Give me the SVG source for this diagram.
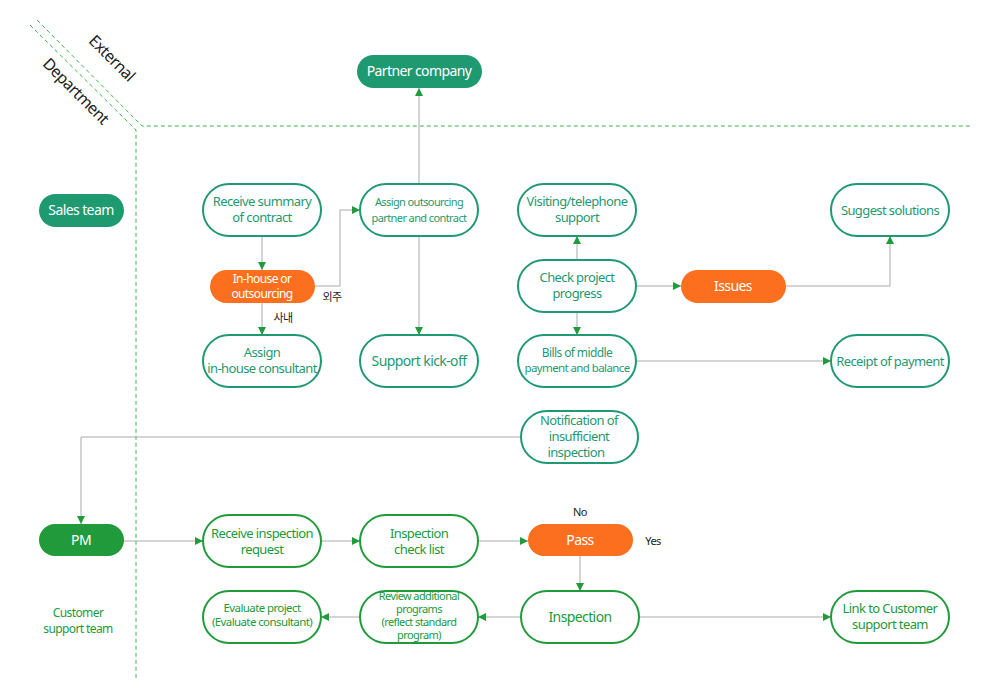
<svg xmlns="http://www.w3.org/2000/svg" width="1000" height="700" viewBox="0 0 1000 700">
<style>
text{font-family:"Noto Sans","Noto Sans CJK KR",sans-serif;text-anchor:middle;letter-spacing:-0.6px}
.t{fill:#1f9970;font-size:13px}
.g{fill:#219a3b;font-size:13px}
.w{fill:#fff;font-size:14px}
.k{fill:#222;font-size:11px}
.ot{fill:#fff;stroke:#1f9970;stroke-width:2}
.og{fill:#fff;stroke:#219a3b;stroke-width:2}
.ft{fill:#1f9970}.fg{fill:#219a3b}.fo{fill:#fb6f1e}
.c path{fill:none;stroke:#aaa;stroke-width:1;marker-end:url(#a)}
.d{fill:none;stroke:#3bb54a;stroke-width:1;stroke-dasharray:4 3}
</style>
<defs><marker id="a" viewBox="0 0 10 10" refX="10" refY="5" markerWidth="8" markerHeight="8" markerUnits="userSpaceOnUse" orient="auto"><path d="M0,0L10,5L0,10z" fill="#219a3b"/></marker></defs>
<rect width="1000" height="700" fill="#fff"/>
<path class="d" d="M37,20L142,126H970M30,25L136,130V680"/>
<text x="108" y="62" transform="rotate(45 108 62)" style="font-size:16px;fill:#222">External</text>
<text x="72" y="95" transform="rotate(45 72 95)" style="font-size:16px;fill:#222">Department</text>
<g class="c">
<path d="M262,236V270"/><path d="M315,286H340V210H360"/><path d="M262,303V335"/>
<path d="M419,184V88"/><path d="M419,236V335"/>
<path d="M577,260V236"/><path d="M577,312V335"/><path d="M636,286H681"/>
<path d="M786,286H890V236"/><path d="M636,361H831"/>
<path d="M521,437H81V524"/><path d="M124,541H203"/><path d="M321,541H360"/><path d="M478,541H528"/>
<path d="M580,556V591"/><path d="M521,617H478"/><path d="M360,617H321"/><path d="M638,617H831"/>
</g>
<text class="k" x="332" y="301">외주</text><text class="k" x="283" y="322">사내</text>
<text class="k" x="580" y="516">No</text><text class="k" x="653" y="545">Yes</text>
<g id="sales"><rect class="ft" x="39" y="194" width="85" height="33" rx="16.5"/><text class="w" x="81" y="215">Sales team</text></g>
<g id="partner"><rect class="ft" x="357" y="55" width="125" height="33" rx="16.5"/><text class="w" x="419" y="76">Partner company</text></g>
<g id="recv"><rect class="ot" x="203" y="184" width="118" height="52" rx="26"/><text class="t" x="262" y="206">Receive summary</text><text class="t" x="262" y="222">of contract</text></g>
<g id="assignout"><rect class="ot" x="360" y="184" width="118" height="52" rx="26"/><text class="t" x="419" y="206" style="font-size:11px">Assign outsourcing</text><text class="t" x="419" y="222" style="font-size:11px">partner and contract</text></g>
<g id="visit"><rect class="ot" x="518" y="184" width="118" height="52" rx="26"/><text class="t" x="577" y="206">Visiting/telephone</text><text class="t" x="577" y="222">support</text></g>
<g id="suggest"><rect class="ot" x="831" y="184" width="118" height="52" rx="26"/><text class="t" x="890" y="215">Suggest solutions</text></g>
<g id="inhouse"><rect class="fo" x="210" y="270" width="105" height="33" rx="16.5"/><text class="w" x="262" y="283" style="font-size:12px">In-house or</text><text class="w" x="262" y="298" style="font-size:12px">outsourcing</text></g>
<g id="check"><rect class="ot" x="518" y="260" width="118" height="52" rx="26"/><text class="t" x="577" y="282">Check project</text><text class="t" x="577" y="298">progress</text></g>
<g id="issues"><rect class="fo" x="681" y="270" width="105" height="33" rx="16.5"/><text class="w" x="733" y="291">Issues</text></g>
<g id="assignin"><rect class="ot" x="203" y="335" width="118" height="52" rx="26"/><text class="t" x="262" y="357">Assign</text><text class="t" x="262" y="373">in-house consultant</text></g>
<g id="kickoff"><rect class="ot" x="360" y="335" width="118" height="52" rx="26"/><text class="t" x="419" y="366" style="font-size:14px">Support kick-off</text></g>
<g id="bills"><rect class="ot" x="518" y="335" width="118" height="52" rx="26"/><text class="t" x="577" y="357" style="font-size:12px">Bills of middle</text><text class="t" x="577" y="372" style="font-size:11.5px">payment and balance</text></g>
<g id="receipt"><rect class="ot" x="831" y="335" width="118" height="52" rx="26"/><text class="t" x="890" y="366">Receipt of payment</text></g>
<g id="notif"><rect class="ot" x="521" y="411" width="117" height="52" rx="26"/><text class="t" x="579" y="425">Notification of</text><text class="t" x="579" y="441">insufficient</text><text class="t" x="576" y="457">inspection</text></g>
<g id="pm"><rect class="fg" x="39" y="524" width="85" height="32" rx="16"/><text class="w" x="81" y="545">PM</text></g>
<text class="g" x="78" y="617" style="font-size:12px">Customer</text><text class="g" x="78" y="633" style="font-size:12px">support team</text>
<g id="recvinsp"><rect class="og" x="203" y="515" width="118" height="52" rx="26"/><text class="g" x="262" y="538">Receive inspection</text><text class="g" x="262" y="554">request</text></g>
<g id="checklist"><rect class="og" x="360" y="515" width="118" height="52" rx="26"/><text class="g" x="419" y="538">Inspection</text><text class="g" x="419" y="554">check list</text></g>
<g id="pass"><rect class="fo" x="528" y="524" width="105" height="32" rx="16"/><text class="w" x="580" y="545">Pass</text></g>
<g id="inspection"><rect class="og" x="521" y="591" width="118" height="52" rx="26"/><text class="g" x="580" y="622" style="font-size:14px">Inspection</text></g>
<g id="review"><rect class="og" x="360" y="591" width="118" height="52" rx="26"/><text class="g" x="419" y="600" style="font-size:11px">Review additional</text><text class="g" x="419" y="613" style="font-size:11px">programs</text><text class="g" x="419" y="626" style="font-size:11px">(reflect standard</text><text class="g" x="419" y="639" style="font-size:11px">program)</text></g>
<g id="evaluate"><rect class="og" x="203" y="591" width="118" height="52" rx="26"/><text class="g" x="262" y="612" style="font-size:11.5px">Evaluate project</text><text class="g" x="262" y="626" style="font-size:11.5px">(Evaluate consultant)</text></g>
<g id="link"><rect class="og" x="831" y="591" width="118" height="52" rx="26"/><text class="g" x="890" y="613">Link to Customer</text><text class="g" x="890" y="629">support team</text></g>
</svg>
